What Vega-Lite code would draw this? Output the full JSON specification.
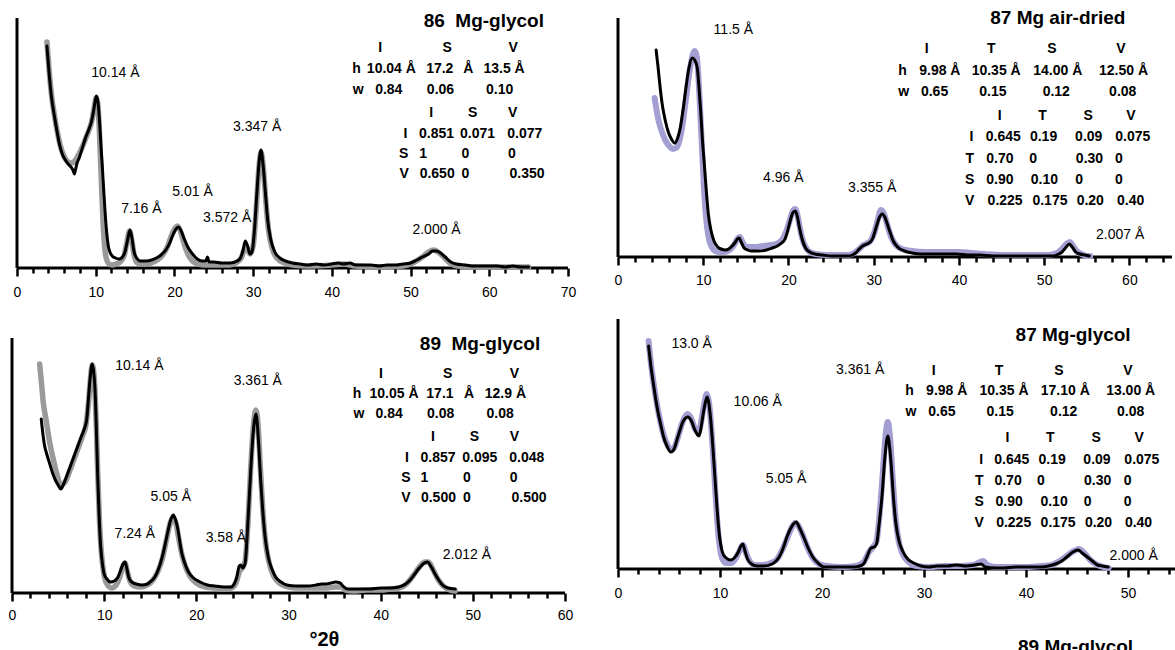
{
  "$schema": "https://vega.github.io/schema/vega-lite/v6.json",
  "background": "white",
  "padding": {"left": 8, "top": 9, "right": 0, "bottom": 0},
  "config": {
    "view": {"stroke": null},
    "font": "Liberation Sans",
    "text": {"font": "Liberation Sans", "color": "#000"}
  },
  "datasets": {
    "tl": [
      {"s":"calc","x":3.8,"y":226},{"s":"calc","x":4.1,"y":196},{"s":"calc","x":4.4,"y":172},{"s":"calc","x":4.75,"y":153},{"s":"calc","x":5.1,"y":137},{"s":"calc","x":5.45,"y":124},{"s":"calc","x":5.8,"y":115},{"s":"calc","x":6.15,"y":109},{"s":"calc","x":6.5,"y":106},{"s":"calc","x":6.85,"y":105},{"s":"calc","x":7.2,"y":106},{"s":"calc","x":7.6,"y":110},{"s":"calc","x":8.0,"y":116},{"s":"calc","x":8.4,"y":123},{"s":"calc","x":8.8,"y":131},{"s":"calc","x":9.2,"y":139},{"s":"calc","x":9.5,"y":147},{"s":"calc","x":9.8,"y":160},{"s":"calc","x":10.05,"y":170},{"s":"calc","x":10.25,"y":165},{"s":"calc","x":10.45,"y":140},{"s":"calc","x":10.6,"y":110},{"s":"calc","x":10.75,"y":80},{"s":"calc","x":10.9,"y":52},{"s":"calc","x":11.05,"y":30},{"s":"calc","x":11.2,"y":16},{"s":"calc","x":11.4,"y":8},{"s":"calc","x":11.7,"y":4},{"s":"calc","x":12.1,"y":3},{"s":"calc","x":12.6,"y":4},{"s":"calc","x":13.1,"y":6},{"s":"calc","x":13.6,"y":12},{"s":"calc","x":13.95,"y":25},{"s":"calc","x":14.3,"y":37},{"s":"calc","x":14.6,"y":27},{"s":"calc","x":14.9,"y":12},{"s":"calc","x":15.3,"y":5},{"s":"calc","x":16.0,"y":4},{"s":"calc","x":17.0,"y":5},{"s":"calc","x":17.8,"y":8},{"s":"calc","x":18.5,"y":13},{"s":"calc","x":19.1,"y":21},{"s":"calc","x":19.6,"y":32},{"s":"calc","x":20.1,"y":40},{"s":"calc","x":20.4,"y":42},{"s":"calc","x":20.8,"y":36},{"s":"calc","x":21.2,"y":25},{"s":"calc","x":21.7,"y":14},{"s":"calc","x":22.3,"y":7},{"s":"calc","x":23.0,"y":4},{"s":"calc","x":24.0,"y":3},{"s":"calc","x":25.0,"y":3},{"s":"calc","x":26.0,"y":3},{"s":"calc","x":27.0,"y":3},{"s":"calc","x":27.8,"y":5},{"s":"calc","x":28.5,"y":10},{"s":"calc","x":28.9,"y":19},{"s":"calc","x":29.2,"y":20},{"s":"calc","x":29.6,"y":14},{"s":"calc","x":30.0,"y":22},{"s":"calc","x":30.4,"y":60},{"s":"calc","x":30.75,"y":102},{"s":"calc","x":31.0,"y":116},{"s":"calc","x":31.3,"y":100},{"s":"calc","x":31.6,"y":68},{"s":"calc","x":31.95,"y":38},{"s":"calc","x":32.4,"y":20},{"s":"calc","x":33.0,"y":10},{"s":"calc","x":34.0,"y":5},{"s":"calc","x":35.0,"y":3},{"s":"calc","x":37.0,"y":2},{"s":"calc","x":40.0,"y":3},{"s":"calc","x":41.5,"y":4},{"s":"calc","x":43.0,"y":2},{"s":"calc","x":46.0,"y":1},{"s":"calc","x":49.0,"y":2},{"s":"calc","x":50.5,"y":6},{"s":"calc","x":51.5,"y":11},{"s":"calc","x":52.3,"y":16},{"s":"calc","x":52.9,"y":18},{"s":"calc","x":53.5,"y":16},{"s":"calc","x":54.2,"y":11},{"s":"calc","x":55.0,"y":5},{"s":"calc","x":56.0,"y":2},{"s":"calc","x":58.0,"y":1},{"s":"calc","x":62.0,"y":1},{"s":"calc","x":65.0,"y":1},
      {"s":"obs","x":3.8,"y":222},{"s":"obs","x":4.1,"y":193},{"s":"obs","x":4.4,"y":170},{"s":"obs","x":4.75,"y":152},{"s":"obs","x":5.1,"y":136},{"s":"obs","x":5.45,"y":122},{"s":"obs","x":5.8,"y":113},{"s":"obs","x":6.15,"y":108},{"s":"obs","x":6.5,"y":104},{"s":"obs","x":6.85,"y":101},{"s":"obs","x":7.1,"y":98},{"s":"obs","x":7.3,"y":94},{"s":"obs","x":7.45,"y":99},{"s":"obs","x":7.6,"y":104},{"s":"obs","x":7.9,"y":110},{"s":"obs","x":8.3,"y":120},{"s":"obs","x":8.7,"y":130},{"s":"obs","x":9.1,"y":138},{"s":"obs","x":9.45,"y":146},{"s":"obs","x":9.75,"y":158},{"s":"obs","x":9.95,"y":168},{"s":"obs","x":10.1,"y":172},{"s":"obs","x":10.3,"y":165},{"s":"obs","x":10.5,"y":145},{"s":"obs","x":10.7,"y":118},{"s":"obs","x":10.85,"y":100},{"s":"obs","x":11.0,"y":80},{"s":"obs","x":11.2,"y":55},{"s":"obs","x":11.4,"y":35},{"s":"obs","x":11.6,"y":22},{"s":"obs","x":11.8,"y":16},{"s":"obs","x":12.1,"y":12},{"s":"obs","x":12.5,"y":10},{"s":"obs","x":13.0,"y":9},{"s":"obs","x":13.4,"y":11},{"s":"obs","x":13.75,"y":17},{"s":"obs","x":14.05,"y":28},{"s":"obs","x":14.35,"y":38},{"s":"obs","x":14.6,"y":30},{"s":"obs","x":14.85,"y":17},{"s":"obs","x":15.2,"y":10},{"s":"obs","x":15.7,"y":7},{"s":"obs","x":16.4,"y":7},{"s":"obs","x":17.1,"y":8},{"s":"obs","x":17.7,"y":10},{"s":"obs","x":18.3,"y":13},{"s":"obs","x":18.9,"y":18},{"s":"obs","x":19.4,"y":25},{"s":"obs","x":19.8,"y":33},{"s":"obs","x":20.2,"y":39},{"s":"obs","x":20.5,"y":41},{"s":"obs","x":20.8,"y":38},{"s":"obs","x":21.2,"y":30},{"s":"obs","x":21.7,"y":21},{"s":"obs","x":22.3,"y":14},{"s":"obs","x":22.9,"y":9},{"s":"obs","x":23.5,"y":7},{"s":"obs","x":24.0,"y":7},{"s":"obs","x":24.2,"y":11},{"s":"obs","x":24.4,"y":6},{"s":"obs","x":25.0,"y":6},{"s":"obs","x":26.0,"y":5},{"s":"obs","x":27.0,"y":5},{"s":"obs","x":27.7,"y":6},{"s":"obs","x":28.3,"y":9},{"s":"obs","x":28.7,"y":17},{"s":"obs","x":29.0,"y":27},{"s":"obs","x":29.3,"y":22},{"s":"obs","x":29.6,"y":14},{"s":"obs","x":29.85,"y":16},{"s":"obs","x":30.15,"y":36},{"s":"obs","x":30.45,"y":72},{"s":"obs","x":30.75,"y":105},{"s":"obs","x":31.0,"y":118},{"s":"obs","x":31.25,"y":104},{"s":"obs","x":31.55,"y":76},{"s":"obs","x":31.85,"y":48},{"s":"obs","x":32.25,"y":28},{"s":"obs","x":32.75,"y":16},{"s":"obs","x":33.4,"y":10},{"s":"obs","x":34.1,"y":7},{"s":"obs","x":35.0,"y":5},{"s":"obs","x":36.0,"y":4},{"s":"obs","x":37.0,"y":3},{"s":"obs","x":38.0,"y":4},{"s":"obs","x":39.0,"y":3},{"s":"obs","x":40.0,"y":4},{"s":"obs","x":40.8,"y":5},{"s":"obs","x":41.5,"y":4},{"s":"obs","x":42.3,"y":5},{"s":"obs","x":43.0,"y":3},{"s":"obs","x":44.0,"y":3},{"s":"obs","x":45.0,"y":3},{"s":"obs","x":46.0,"y":2},{"s":"obs","x":47.0,"y":3},{"s":"obs","x":48.0,"y":3},{"s":"obs","x":49.0,"y":4},{"s":"obs","x":50.0,"y":5},{"s":"obs","x":50.8,"y":8},{"s":"obs","x":51.5,"y":11},{"s":"obs","x":52.3,"y":14},{"s":"obs","x":52.8,"y":17},{"s":"obs","x":53.3,"y":17},{"s":"obs","x":53.8,"y":15},{"s":"obs","x":54.4,"y":11},{"s":"obs","x":55.1,"y":6},{"s":"obs","x":55.8,"y":4},{"s":"obs","x":57.0,"y":3},{"s":"obs","x":58.0,"y":2},{"s":"obs","x":59.0,"y":2},{"s":"obs","x":60.0,"y":2},{"s":"obs","x":61.0,"y":2},{"s":"obs","x":62.0,"y":1},{"s":"obs","x":63.0,"y":2},{"s":"obs","x":64.0,"y":1},{"s":"obs","x":65.0,"y":1}
    ],
    "tr": [
      {"s":"calc","x":4.3,"y":159},{"s":"calc","x":4.5,"y":148},{"s":"calc","x":4.8,"y":135},{"s":"calc","x":5.2,"y":124},{"s":"calc","x":5.6,"y":116},{"s":"calc","x":6.0,"y":111},{"s":"calc","x":6.4,"y":108},{"s":"calc","x":6.8,"y":109},{"s":"calc","x":7.2,"y":116},{"s":"calc","x":7.6,"y":134},{"s":"calc","x":8.0,"y":160},{"s":"calc","x":8.4,"y":186},{"s":"calc","x":8.8,"y":203},{"s":"calc","x":9.0,"y":206},{"s":"calc","x":9.25,"y":200},{"s":"calc","x":9.45,"y":178},{"s":"calc","x":9.65,"y":145},{"s":"calc","x":9.85,"y":110},{"s":"calc","x":10.05,"y":75},{"s":"calc","x":10.25,"y":48},{"s":"calc","x":10.45,"y":30},{"s":"calc","x":10.7,"y":17},{"s":"calc","x":11.0,"y":10},{"s":"calc","x":11.4,"y":6},{"s":"calc","x":11.9,"y":5},{"s":"calc","x":12.5,"y":5},{"s":"calc","x":13.1,"y":7},{"s":"calc","x":13.6,"y":12},{"s":"calc","x":14.0,"y":18},{"s":"calc","x":14.3,"y":20},{"s":"calc","x":14.6,"y":15},{"s":"calc","x":14.9,"y":11},{"s":"calc","x":15.3,"y":10},{"s":"calc","x":16.0,"y":10},{"s":"calc","x":17.0,"y":11},{"s":"calc","x":18.0,"y":12},{"s":"calc","x":18.8,"y":14},{"s":"calc","x":19.4,"y":19},{"s":"calc","x":19.8,"y":27},{"s":"calc","x":20.2,"y":38},{"s":"calc","x":20.5,"y":46},{"s":"calc","x":20.8,"y":48},{"s":"calc","x":21.05,"y":42},{"s":"calc","x":21.3,"y":31},{"s":"calc","x":21.6,"y":19},{"s":"calc","x":22.0,"y":10},{"s":"calc","x":22.5,"y":5},{"s":"calc","x":23.2,"y":3},{"s":"calc","x":24.5,"y":2},{"s":"calc","x":26.0,"y":2},{"s":"calc","x":27.0,"y":2},{"s":"calc","x":27.7,"y":4},{"s":"calc","x":28.3,"y":8},{"s":"calc","x":28.8,"y":12},{"s":"calc","x":29.3,"y":14},{"s":"calc","x":29.7,"y":17},{"s":"calc","x":30.1,"y":25},{"s":"calc","x":30.5,"y":38},{"s":"calc","x":30.85,"y":47},{"s":"calc","x":31.1,"y":45},{"s":"calc","x":31.4,"y":38},{"s":"calc","x":31.7,"y":29},{"s":"calc","x":32.1,"y":19},{"s":"calc","x":32.6,"y":12},{"s":"calc","x":33.3,"y":8},{"s":"calc","x":34.5,"y":6},{"s":"calc","x":36.0,"y":5},{"s":"calc","x":38.0,"y":5},{"s":"calc","x":40.0,"y":5},{"s":"calc","x":41.5,"y":4},{"s":"calc","x":43.0,"y":3},{"s":"calc","x":45.0,"y":2},{"s":"calc","x":47.0,"y":2},{"s":"calc","x":49.0,"y":2},{"s":"calc","x":50.5,"y":2},{"s":"calc","x":51.5,"y":4},{"s":"calc","x":52.1,"y":8},{"s":"calc","x":52.6,"y":13},{"s":"calc","x":53.0,"y":15},{"s":"calc","x":53.4,"y":11},{"s":"calc","x":53.8,"y":6},{"s":"calc","x":54.4,"y":3},{"s":"calc","x":55.0,"y":1},{"s":"calc","x":55.4,"y":1},
      {"s":"obs","x":4.47,"y":207},{"s":"obs","x":4.7,"y":190},{"s":"obs","x":4.9,"y":173},{"s":"obs","x":5.2,"y":152},{"s":"obs","x":5.56,"y":136},{"s":"obs","x":5.9,"y":125},{"s":"obs","x":6.2,"y":119},{"s":"obs","x":6.66,"y":114},{"s":"obs","x":7.0,"y":119},{"s":"obs","x":7.3,"y":129},{"s":"obs","x":7.65,"y":148},{"s":"obs","x":7.97,"y":169},{"s":"obs","x":8.3,"y":188},{"s":"obs","x":8.7,"y":199},{"s":"obs","x":9.0,"y":197},{"s":"obs","x":9.3,"y":189},{"s":"obs","x":9.5,"y":170},{"s":"obs","x":9.7,"y":146},{"s":"obs","x":9.9,"y":118},{"s":"obs","x":10.16,"y":89},{"s":"obs","x":10.4,"y":62},{"s":"obs","x":10.6,"y":43},{"s":"obs","x":10.9,"y":27},{"s":"obs","x":11.26,"y":16},{"s":"obs","x":11.7,"y":10},{"s":"obs","x":12.1,"y":8},{"s":"obs","x":12.6,"y":7},{"s":"obs","x":13.0,"y":8},{"s":"obs","x":13.4,"y":11},{"s":"obs","x":13.7,"y":14},{"s":"obs","x":14.0,"y":18},{"s":"obs","x":14.2,"y":19},{"s":"obs","x":14.45,"y":15},{"s":"obs","x":14.8,"y":9},{"s":"obs","x":15.2,"y":7},{"s":"obs","x":15.6,"y":6},{"s":"obs","x":16.5,"y":6},{"s":"obs","x":17.4,"y":7},{"s":"obs","x":18.1,"y":9},{"s":"obs","x":18.7,"y":11},{"s":"obs","x":19.2,"y":14},{"s":"obs","x":19.6,"y":18},{"s":"obs","x":19.9,"y":26},{"s":"obs","x":20.2,"y":36},{"s":"obs","x":20.5,"y":44},{"s":"obs","x":20.8,"y":46},{"s":"obs","x":21.05,"y":40},{"s":"obs","x":21.3,"y":29},{"s":"obs","x":21.6,"y":18},{"s":"obs","x":22.0,"y":9},{"s":"obs","x":22.5,"y":5},{"s":"obs","x":23.1,"y":3},{"s":"obs","x":24.0,"y":2},{"s":"obs","x":25.0,"y":1},{"s":"obs","x":26.0,"y":1},{"s":"obs","x":27.0,"y":1},{"s":"obs","x":27.5,"y":2},{"s":"obs","x":28.0,"y":5},{"s":"obs","x":28.3,"y":8},{"s":"obs","x":28.7,"y":11},{"s":"obs","x":29.2,"y":13},{"s":"obs","x":29.6,"y":15},{"s":"obs","x":29.9,"y":19},{"s":"obs","x":30.3,"y":30},{"s":"obs","x":30.7,"y":40},{"s":"obs","x":31.0,"y":43},{"s":"obs","x":31.3,"y":40},{"s":"obs","x":31.6,"y":33},{"s":"obs","x":31.95,"y":24},{"s":"obs","x":32.3,"y":16},{"s":"obs","x":32.8,"y":10},{"s":"obs","x":33.6,"y":6},{"s":"obs","x":34.5,"y":4},{"s":"obs","x":35.5,"y":3},{"s":"obs","x":36.5,"y":3},{"s":"obs","x":37.5,"y":3},{"s":"obs","x":38.5,"y":3},{"s":"obs","x":39.7,"y":3},{"s":"obs","x":41.0,"y":2},{"s":"obs","x":42.5,"y":2},{"s":"obs","x":44.0,"y":1},{"s":"obs","x":45.5,"y":1},{"s":"obs","x":47.0,"y":1},{"s":"obs","x":48.5,"y":1},{"s":"obs","x":50.0,"y":1},{"s":"obs","x":51.1,"y":1},{"s":"obs","x":51.7,"y":3},{"s":"obs","x":52.1,"y":5},{"s":"obs","x":52.5,"y":9},{"s":"obs","x":52.96,"y":13},{"s":"obs","x":53.3,"y":10},{"s":"obs","x":53.7,"y":5},{"s":"obs","x":54.2,"y":3},{"s":"obs","x":54.8,"y":2},{"s":"obs","x":55.3,"y":1}
    ],
    "bl": [
      {"s":"calc","x":3.0,"y":229},{"s":"calc","x":3.2,"y":210},{"s":"calc","x":3.4,"y":190},{"s":"calc","x":3.7,"y":173},{"s":"calc","x":4.1,"y":150},{"s":"calc","x":4.5,"y":133},{"s":"calc","x":4.9,"y":118},{"s":"calc","x":5.3,"y":108},{"s":"calc","x":5.7,"y":110},{"s":"calc","x":6.1,"y":118},{"s":"calc","x":6.5,"y":128},{"s":"calc","x":6.9,"y":138},{"s":"calc","x":7.3,"y":148},{"s":"calc","x":7.7,"y":158},{"s":"calc","x":8.0,"y":167},{"s":"calc","x":8.3,"y":190},{"s":"calc","x":8.5,"y":213},{"s":"calc","x":8.7,"y":228},{"s":"calc","x":8.9,"y":218},{"s":"calc","x":9.1,"y":180},{"s":"calc","x":9.3,"y":120},{"s":"calc","x":9.5,"y":70},{"s":"calc","x":9.7,"y":40},{"s":"calc","x":9.95,"y":20},{"s":"calc","x":10.3,"y":9},{"s":"calc","x":10.8,"y":5},{"s":"calc","x":11.3,"y":8},{"s":"calc","x":11.7,"y":16},{"s":"calc","x":12.0,"y":26},{"s":"calc","x":12.25,"y":30},{"s":"calc","x":12.5,"y":22},{"s":"calc","x":12.8,"y":12},{"s":"calc","x":13.3,"y":7},{"s":"calc","x":14.0,"y":6},{"s":"calc","x":14.7,"y":8},{"s":"calc","x":15.3,"y":13},{"s":"calc","x":15.8,"y":21},{"s":"calc","x":16.3,"y":34},{"s":"calc","x":16.8,"y":55},{"s":"calc","x":17.2,"y":71},{"s":"calc","x":17.5,"y":75},{"s":"calc","x":17.8,"y":69},{"s":"calc","x":18.1,"y":54},{"s":"calc","x":18.4,"y":40},{"s":"calc","x":18.8,"y":27},{"s":"calc","x":19.3,"y":17},{"s":"calc","x":20.0,"y":10},{"s":"calc","x":21.0,"y":6},{"s":"calc","x":22.0,"y":5},{"s":"calc","x":23.0,"y":4},{"s":"calc","x":23.8,"y":5},{"s":"calc","x":24.3,"y":10},{"s":"calc","x":24.7,"y":22},{"s":"calc","x":25.0,"y":25},{"s":"calc","x":25.3,"y":32},{"s":"calc","x":25.6,"y":70},{"s":"calc","x":25.9,"y":125},{"s":"calc","x":26.2,"y":168},{"s":"calc","x":26.45,"y":183},{"s":"calc","x":26.7,"y":168},{"s":"calc","x":26.95,"y":125},{"s":"calc","x":27.2,"y":85},{"s":"calc","x":27.5,"y":52},{"s":"calc","x":27.9,"y":30},{"s":"calc","x":28.4,"y":17},{"s":"calc","x":29.0,"y":10},{"s":"calc","x":30.0,"y":6},{"s":"calc","x":31.0,"y":5},{"s":"calc","x":32.0,"y":5},{"s":"calc","x":33.0,"y":5},{"s":"calc","x":34.0,"y":5},{"s":"calc","x":35.0,"y":6},{"s":"calc","x":35.7,"y":6},{"s":"calc","x":36.2,"y":3},{"s":"calc","x":37.0,"y":2},{"s":"calc","x":38.5,"y":3},{"s":"calc","x":40.0,"y":3},{"s":"calc","x":41.0,"y":4},{"s":"calc","x":42.0,"y":5},{"s":"calc","x":42.8,"y":9},{"s":"calc","x":43.5,"y":17},{"s":"calc","x":44.2,"y":26},{"s":"calc","x":44.8,"y":31},{"s":"calc","x":45.2,"y":31},{"s":"calc","x":45.7,"y":23},{"s":"calc","x":46.2,"y":14},{"s":"calc","x":46.8,"y":7},{"s":"calc","x":47.5,"y":3},{"s":"calc","x":48.1,"y":2},
      {"s":"obs","x":3.17,"y":174},{"s":"obs","x":3.5,"y":149},{"s":"obs","x":3.8,"y":138},{"s":"obs","x":4.1,"y":129},{"s":"obs","x":4.4,"y":120},{"s":"obs","x":4.7,"y":113},{"s":"obs","x":5.0,"y":108},{"s":"obs","x":5.3,"y":104},{"s":"obs","x":5.6,"y":109},{"s":"obs","x":5.9,"y":116},{"s":"obs","x":6.3,"y":126},{"s":"obs","x":6.7,"y":136},{"s":"obs","x":7.1,"y":146},{"s":"obs","x":7.5,"y":156},{"s":"obs","x":7.8,"y":163},{"s":"obs","x":8.1,"y":173},{"s":"obs","x":8.3,"y":195},{"s":"obs","x":8.45,"y":212},{"s":"obs","x":8.7,"y":229},{"s":"obs","x":8.85,"y":222},{"s":"obs","x":9.0,"y":205},{"s":"obs","x":9.15,"y":165},{"s":"obs","x":9.3,"y":116},{"s":"obs","x":9.45,"y":78},{"s":"obs","x":9.6,"y":49},{"s":"obs","x":9.8,"y":30},{"s":"obs","x":10.0,"y":19},{"s":"obs","x":10.3,"y":14},{"s":"obs","x":10.7,"y":11},{"s":"obs","x":11.1,"y":12},{"s":"obs","x":11.5,"y":16},{"s":"obs","x":11.8,"y":23},{"s":"obs","x":12.05,"y":29},{"s":"obs","x":12.25,"y":31},{"s":"obs","x":12.45,"y":25},{"s":"obs","x":12.65,"y":16},{"s":"obs","x":13.0,"y":11},{"s":"obs","x":13.5,"y":9},{"s":"obs","x":14.1,"y":8},{"s":"obs","x":14.7,"y":9},{"s":"obs","x":15.1,"y":12},{"s":"obs","x":15.5,"y":16},{"s":"obs","x":15.9,"y":24},{"s":"obs","x":16.3,"y":36},{"s":"obs","x":16.65,"y":50},{"s":"obs","x":16.95,"y":63},{"s":"obs","x":17.25,"y":74},{"s":"obs","x":17.5,"y":78},{"s":"obs","x":17.75,"y":73},{"s":"obs","x":17.95,"y":66},{"s":"obs","x":18.15,"y":55},{"s":"obs","x":18.35,"y":43},{"s":"obs","x":18.7,"y":31},{"s":"obs","x":19.15,"y":21},{"s":"obs","x":19.7,"y":15},{"s":"obs","x":20.4,"y":11},{"s":"obs","x":21.2,"y":8},{"s":"obs","x":22.0,"y":7},{"s":"obs","x":23.0,"y":6},{"s":"obs","x":23.8,"y":6},{"s":"obs","x":24.1,"y":9},{"s":"obs","x":24.4,"y":16},{"s":"obs","x":24.65,"y":27},{"s":"obs","x":24.8,"y":28},{"s":"obs","x":25.05,"y":25},{"s":"obs","x":25.3,"y":30},{"s":"obs","x":25.5,"y":55},{"s":"obs","x":25.7,"y":88},{"s":"obs","x":25.9,"y":122},{"s":"obs","x":26.1,"y":152},{"s":"obs","x":26.3,"y":172},{"s":"obs","x":26.47,"y":179},{"s":"obs","x":26.65,"y":165},{"s":"obs","x":26.8,"y":143},{"s":"obs","x":27.0,"y":110},{"s":"obs","x":27.2,"y":83},{"s":"obs","x":27.45,"y":57},{"s":"obs","x":27.8,"y":36},{"s":"obs","x":28.2,"y":24},{"s":"obs","x":28.6,"y":16},{"s":"obs","x":29.2,"y":11},{"s":"obs","x":29.8,"y":8},{"s":"obs","x":30.8,"y":7},{"s":"obs","x":32.0,"y":7},{"s":"obs","x":33.0,"y":8},{"s":"obs","x":33.6,"y":9},{"s":"obs","x":34.0,"y":9},{"s":"obs","x":34.6,"y":10},{"s":"obs","x":35.1,"y":11},{"s":"obs","x":35.6,"y":10},{"s":"obs","x":35.9,"y":7},{"s":"obs","x":36.4,"y":4},{"s":"obs","x":37.5,"y":4},{"s":"obs","x":38.8,"y":4},{"s":"obs","x":40.0,"y":5},{"s":"obs","x":41.0,"y":5},{"s":"obs","x":42.0,"y":6},{"s":"obs","x":42.7,"y":9},{"s":"obs","x":43.3,"y":14},{"s":"obs","x":43.7,"y":19},{"s":"obs","x":44.1,"y":24},{"s":"obs","x":44.6,"y":29},{"s":"obs","x":45.06,"y":31},{"s":"obs","x":45.5,"y":26},{"s":"obs","x":45.9,"y":19},{"s":"obs","x":46.3,"y":13},{"s":"obs","x":46.7,"y":8},{"s":"obs","x":47.3,"y":5},{"s":"obs","x":48.1,"y":4}
    ],
    "br": [
      {"s":"calc","x":3.0,"y":228},{"s":"calc","x":3.2,"y":208},{"s":"calc","x":3.4,"y":192},{"s":"calc","x":3.65,"y":175},{"s":"calc","x":3.9,"y":160},{"s":"calc","x":4.2,"y":145},{"s":"calc","x":4.5,"y":133},{"s":"calc","x":4.85,"y":124},{"s":"calc","x":5.2,"y":119},{"s":"calc","x":5.55,"y":122},{"s":"calc","x":5.85,"y":131},{"s":"calc","x":6.2,"y":143},{"s":"calc","x":6.55,"y":152},{"s":"calc","x":6.85,"y":155},{"s":"calc","x":7.2,"y":150},{"s":"calc","x":7.55,"y":140},{"s":"calc","x":7.9,"y":137},{"s":"calc","x":8.2,"y":150},{"s":"calc","x":8.45,"y":165},{"s":"calc","x":8.7,"y":175},{"s":"calc","x":8.9,"y":168},{"s":"calc","x":9.1,"y":148},{"s":"calc","x":9.3,"y":118},{"s":"calc","x":9.5,"y":85},{"s":"calc","x":9.7,"y":52},{"s":"calc","x":9.95,"y":24},{"s":"calc","x":10.2,"y":11},{"s":"calc","x":10.6,"y":6},{"s":"calc","x":11.1,"y":6},{"s":"calc","x":11.5,"y":10},{"s":"calc","x":11.9,"y":18},{"s":"calc","x":12.25,"y":24},{"s":"calc","x":12.55,"y":16},{"s":"calc","x":12.9,"y":8},{"s":"calc","x":13.4,"y":4},{"s":"calc","x":14.2,"y":4},{"s":"calc","x":15.0,"y":6},{"s":"calc","x":15.6,"y":10},{"s":"calc","x":16.1,"y":19},{"s":"calc","x":16.6,"y":31},{"s":"calc","x":17.0,"y":41},{"s":"calc","x":17.35,"y":46},{"s":"calc","x":17.7,"y":43},{"s":"calc","x":18.1,"y":34},{"s":"calc","x":18.6,"y":21},{"s":"calc","x":19.1,"y":11},{"s":"calc","x":19.7,"y":5},{"s":"calc","x":20.5,"y":3},{"s":"calc","x":22.0,"y":2},{"s":"calc","x":23.3,"y":3},{"s":"calc","x":24.1,"y":7},{"s":"calc","x":24.6,"y":17},{"s":"calc","x":25.0,"y":22},{"s":"calc","x":25.35,"y":28},{"s":"calc","x":25.65,"y":55},{"s":"calc","x":25.95,"y":95},{"s":"calc","x":26.2,"y":130},{"s":"calc","x":26.45,"y":147},{"s":"calc","x":26.7,"y":128},{"s":"calc","x":26.95,"y":88},{"s":"calc","x":27.2,"y":52},{"s":"calc","x":27.5,"y":29},{"s":"calc","x":27.9,"y":15},{"s":"calc","x":28.5,"y":7},{"s":"calc","x":29.3,"y":3},{"s":"calc","x":30.5,"y":2},{"s":"calc","x":32.0,"y":3},{"s":"calc","x":33.5,"y":3},{"s":"calc","x":34.8,"y":4},{"s":"calc","x":35.5,"y":7},{"s":"calc","x":35.8,"y":8},{"s":"calc","x":36.2,"y":4},{"s":"calc","x":37.0,"y":2},{"s":"calc","x":38.5,"y":2},{"s":"calc","x":40.0,"y":2},{"s":"calc","x":41.5,"y":3},{"s":"calc","x":42.5,"y":4},{"s":"calc","x":43.3,"y":8},{"s":"calc","x":44.0,"y":13},{"s":"calc","x":44.7,"y":18},{"s":"calc","x":45.2,"y":20},{"s":"calc","x":45.7,"y":16},{"s":"calc","x":46.3,"y":9},{"s":"calc","x":47.0,"y":4},{"s":"calc","x":47.6,"y":2},{"s":"calc","x":48.1,"y":1},
      {"s":"obs","x":3.0,"y":223},{"s":"obs","x":3.2,"y":205},{"s":"obs","x":3.4,"y":190},{"s":"obs","x":3.65,"y":173},{"s":"obs","x":3.9,"y":158},{"s":"obs","x":4.2,"y":144},{"s":"obs","x":4.47,"y":132},{"s":"obs","x":4.8,"y":123},{"s":"obs","x":5.2,"y":117},{"s":"obs","x":5.5,"y":120},{"s":"obs","x":5.75,"y":128},{"s":"obs","x":6.05,"y":138},{"s":"obs","x":6.4,"y":148},{"s":"obs","x":6.85,"y":152},{"s":"obs","x":7.2,"y":148},{"s":"obs","x":7.5,"y":140},{"s":"obs","x":7.8,"y":134},{"s":"obs","x":7.95,"y":133},{"s":"obs","x":8.15,"y":142},{"s":"obs","x":8.4,"y":158},{"s":"obs","x":8.6,"y":168},{"s":"obs","x":8.75,"y":172},{"s":"obs","x":8.9,"y":166},{"s":"obs","x":9.1,"y":148},{"s":"obs","x":9.3,"y":122},{"s":"obs","x":9.5,"y":92},{"s":"obs","x":9.7,"y":62},{"s":"obs","x":9.96,"y":32},{"s":"obs","x":10.2,"y":18},{"s":"obs","x":10.5,"y":12},{"s":"obs","x":11.06,"y":9},{"s":"obs","x":11.4,"y":11},{"s":"obs","x":11.8,"y":17},{"s":"obs","x":12.05,"y":23},{"s":"obs","x":12.23,"y":25},{"s":"obs","x":12.45,"y":18},{"s":"obs","x":12.7,"y":10},{"s":"obs","x":13.1,"y":5},{"s":"obs","x":13.6,"y":3},{"s":"obs","x":14.3,"y":3},{"s":"obs","x":15.1,"y":5},{"s":"obs","x":15.5,"y":8},{"s":"obs","x":15.8,"y":12},{"s":"obs","x":16.2,"y":21},{"s":"obs","x":16.56,"y":32},{"s":"obs","x":16.9,"y":40},{"s":"obs","x":17.2,"y":45},{"s":"obs","x":17.47,"y":47},{"s":"obs","x":17.8,"y":41},{"s":"obs","x":18.2,"y":32},{"s":"obs","x":18.6,"y":22},{"s":"obs","x":19.1,"y":12},{"s":"obs","x":19.6,"y":6},{"s":"obs","x":20.2,"y":2},{"s":"obs","x":21.0,"y":2},{"s":"obs","x":22.0,"y":2},{"s":"obs","x":23.15,"y":2},{"s":"obs","x":23.7,"y":3},{"s":"obs","x":24.07,"y":5},{"s":"obs","x":24.4,"y":12},{"s":"obs","x":24.8,"y":21},{"s":"obs","x":25.1,"y":22},{"s":"obs","x":25.35,"y":25},{"s":"obs","x":25.6,"y":45},{"s":"obs","x":25.9,"y":75},{"s":"obs","x":26.15,"y":110},{"s":"obs","x":26.45,"y":133},{"s":"obs","x":26.65,"y":120},{"s":"obs","x":26.8,"y":102},{"s":"obs","x":27.0,"y":72},{"s":"obs","x":27.25,"y":45},{"s":"obs","x":27.55,"y":28},{"s":"obs","x":27.9,"y":18},{"s":"obs","x":28.4,"y":10},{"s":"obs","x":29.0,"y":6},{"s":"obs","x":29.7,"y":3},{"s":"obs","x":30.5,"y":2},{"s":"obs","x":31.3,"y":3},{"s":"obs","x":32.3,"y":3},{"s":"obs","x":33.2,"y":4},{"s":"obs","x":34.1,"y":3},{"s":"obs","x":35.0,"y":4},{"s":"obs","x":35.6,"y":5},{"s":"obs","x":36.0,"y":2},{"s":"obs","x":37.0,"y":1},{"s":"obs","x":37.8,"y":1},{"s":"obs","x":39.0,"y":2},{"s":"obs","x":40.5,"y":2},{"s":"obs","x":41.5,"y":2},{"s":"obs","x":42.2,"y":3},{"s":"obs","x":42.9,"y":5},{"s":"obs","x":43.5,"y":8},{"s":"obs","x":44.0,"y":12},{"s":"obs","x":44.6,"y":17},{"s":"obs","x":45.1,"y":19},{"s":"obs","x":45.5,"y":16},{"s":"obs","x":45.9,"y":13},{"s":"obs","x":46.5,"y":8},{"s":"obs","x":47.0,"y":4},{"s":"obs","x":47.5,"y":3},{"s":"obs","x":48.06,"y":2}
    ],
    "tlText": [
      {"k":"title","x":66.95,"y":247,"t":"86\u00a0 Mg-glycol"},
      {"k":"peak","x":12.5,"y":195,"t":"10.14 Å"},{"k":"peak","x":15.8,"y":59,"t":"7.16 Å"},{"k":"peak","x":22.3,"y":76,"t":"5.01 Å"},{"k":"peak","x":26.7,"y":50,"t":"3.572 Å"},{"k":"peak","x":30.5,"y":141,"t":"3.347 Å"},{"k":"peak","x":53.3,"y":38,"t":"2.000 Å"},
      {"k":"tab","x":46.15,"y":220,"t":"I"},{"k":"tab","x":54.65,"y":220,"t":"S"},{"k":"tab","x":63.05,"y":220,"t":"V"},
      {"k":"tab","x":43.15,"y":199,"t":"h"},{"k":"tab","x":47.56,"y":199,"t":"10.04 Å"},{"k":"tab","x":53.71,"y":199,"t":"17.2"},{"k":"tab","x":57.32,"y":199,"t":"Å"},{"k":"tab","x":61.88,"y":199,"t":"13.5 Å"},
      {"k":"tab","x":43.33,"y":178,"t":"w"},{"k":"tab","x":47.23,"y":178,"t":"0.84"},{"k":"tab","x":53.8,"y":178,"t":"0.06"},{"k":"tab","x":61.31,"y":178,"t":"0.10"},
      {"k":"tab","x":52.63,"y":155,"t":"I"},{"k":"tab","x":57.89,"y":155,"t":"S"},{"k":"tab","x":62.96,"y":155,"t":"V"},
      {"k":"tab","x":49.34,"y":134,"t":"I"},{"k":"tab","x":53.29,"y":134,"t":"0.851"},{"k":"tab","x":58.5,"y":134,"t":"0.071"},{"k":"tab","x":64.51,"y":134,"t":"0.077"},
      {"k":"tab","x":49.11,"y":114,"t":"S"},{"k":"tab","x":51.6,"y":114,"t":"1"},{"k":"tab","x":56.95,"y":114,"t":"0"},{"k":"tab","x":62.86,"y":114,"t":"0"},
      {"k":"tab","x":49.2,"y":94,"t":"V"},{"k":"tab","x":53.38,"y":94,"t":"0.650"},{"k":"tab","x":56.95,"y":94,"t":"0"},{"k":"tab","x":64.79,"y":94,"t":"0.350"}
    ],
    "trText": [
      {"k":"title","x":59.53,"y":239,"t":"87 Mg air-dried"},
      {"k":"peak","x":13.53,"y":227,"t":"11.5 Å"},{"k":"peak","x":19.4,"y":79,"t":"4.96 Å"},{"k":"peak","x":29.83,"y":69,"t":"3.355 Å"},{"k":"peak","x":58.91,"y":22,"t":"2.007 Å"},
      {"k":"tab","x":36.22,"y":208,"t":"I"},{"k":"tab","x":43.8,"y":208,"t":"T"},{"k":"tab","x":50.9,"y":208,"t":"S"},{"k":"tab","x":59.0,"y":208,"t":"V"},
      {"k":"tab","x":33.38,"y":186,"t":"h"},{"k":"tab","x":37.76,"y":186,"t":"9.98 Å"},{"k":"tab","x":44.37,"y":186,"t":"10.35 Å"},{"k":"tab","x":51.6,"y":186,"t":"14.00 Å"},{"k":"tab","x":59.31,"y":186,"t":"12.50 Å"},
      {"k":"tab","x":33.51,"y":165,"t":"w"},{"k":"tab","x":37.14,"y":165,"t":"0.65"},{"k":"tab","x":43.98,"y":165,"t":"0.15"},{"k":"tab","x":51.42,"y":165,"t":"0.12"},{"k":"tab","x":59.22,"y":165,"t":"0.08"},
      {"k":"tab","x":44.77,"y":141,"t":"I"},{"k":"tab","x":49.8,"y":141,"t":"T"},{"k":"tab","x":55.15,"y":141,"t":"S"},{"k":"tab","x":60.18,"y":141,"t":"V"},
      {"k":"tab","x":41.48,"y":120,"t":"I"},{"k":"tab","x":45.2,"y":120,"t":"0.645"},{"k":"tab","x":49.93,"y":120,"t":"0.19"},{"k":"tab","x":55.23,"y":120,"t":"0.09"},{"k":"tab","x":60.4,"y":120,"t":"0.075"},
      {"k":"tab","x":41.26,"y":98,"t":"T"},{"k":"tab","x":44.81,"y":98,"t":"0.70"},{"k":"tab","x":48.71,"y":98,"t":"0"},{"k":"tab","x":55.32,"y":98,"t":"0.30"},{"k":"tab","x":58.78,"y":98,"t":"0"},
      {"k":"tab","x":41.26,"y":77,"t":"S"},{"k":"tab","x":44.81,"y":77,"t":"0.90"},{"k":"tab","x":50.02,"y":77,"t":"0.10"},{"k":"tab","x":54.1,"y":77,"t":"0"},{"k":"tab","x":58.78,"y":77,"t":"0"},
      {"k":"tab","x":41.26,"y":56,"t":"V"},{"k":"tab","x":45.42,"y":56,"t":"0.225"},{"k":"tab","x":50.68,"y":56,"t":"0.175"},{"k":"tab","x":55.41,"y":56,"t":"0.20"},{"k":"tab","x":60.14,"y":56,"t":"0.40"}
    ],
    "blText": [
      {"k":"title","x":57.31,"y":249,"t":"89\u00a0 Mg-glycol"},
      {"k":"axis","x":33.9,"y":-47,"t":"°2θ"},
      {"k":"peak","x":13.82,"y":227,"t":"10.14 Å"},{"k":"peak","x":26.67,"y":212,"t":"3.361 Å"},{"k":"peak","x":17.23,"y":96,"t":"5.05 Å"},{"k":"peak","x":13.33,"y":59,"t":"7.24 Å"},{"k":"peak","x":23.21,"y":55,"t":"3.58 Å"},{"k":"peak","x":49.36,"y":38,"t":"2.012 Å"},
      {"k":"tab","x":40.04,"y":219,"t":"I"},{"k":"tab","x":47.27,"y":219,"t":"S"},{"k":"tab","x":54.5,"y":219,"t":"V"},
      {"k":"tab","x":37.43,"y":199,"t":"h"},{"k":"tab","x":41.45,"y":199,"t":"10.05 Å"},{"k":"tab","x":46.43,"y":199,"t":"17.1"},{"k":"tab","x":49.6,"y":199,"t":"Å"},{"k":"tab","x":53.53,"y":199,"t":"12.9 Å"},
      {"k":"tab","x":37.63,"y":179,"t":"w"},{"k":"tab","x":40.92,"y":179,"t":"0.84"},{"k":"tab","x":46.51,"y":179,"t":"0.08"},{"k":"tab","x":52.97,"y":179,"t":"0.08"},
      {"k":"tab","x":45.66,"y":156,"t":"I"},{"k":"tab","x":50.16,"y":156,"t":"S"},{"k":"tab","x":54.5,"y":156,"t":"V"},
      {"k":"tab","x":42.85,"y":135,"t":"I"},{"k":"tab","x":46.22,"y":135,"t":"0.857"},{"k":"tab","x":50.76,"y":135,"t":"0.095"},{"k":"tab","x":55.86,"y":135,"t":"0.048"},
      {"k":"tab","x":42.73,"y":115,"t":"S"},{"k":"tab","x":44.74,"y":115,"t":"1"},{"k":"tab","x":49.36,"y":115,"t":"0"},{"k":"tab","x":54.42,"y":115,"t":"0"},
      {"k":"tab","x":42.73,"y":95,"t":"V"},{"k":"tab","x":46.27,"y":95,"t":"0.500"},{"k":"tab","x":49.36,"y":95,"t":"0"},{"k":"tab","x":56.1,"y":95,"t":"0.500"}
    ],
    "brText": [
      {"k":"title","x":50.26,"y":234,"t":"87 Mg-glycol"},
      {"k":"next","x":50.5,"y":-84,"t":"89 Mg-glycol"},
      {"k":"peak","x":7.22,"y":225,"t":"13.0 Å"},{"k":"peak","x":23.74,"y":199,"t":"3.361 Å"},{"k":"peak","x":13.7,"y":167,"t":"10.06 Å"},{"k":"peak","x":16.48,"y":90,"t":"5.05 Å"},{"k":"peak","x":50.55,"y":13,"t":"2.000 Å"},
      {"k":"tab","x":30.95,"y":198,"t":"I"},{"k":"tab","x":37.36,"y":198,"t":"T"},{"k":"tab","x":43.22,"y":198,"t":"S"},{"k":"tab","x":50.0,"y":198,"t":"V"},
      {"k":"tab","x":28.57,"y":178,"t":"h"},{"k":"tab","x":32.23,"y":178,"t":"9.98 Å"},{"k":"tab","x":37.84,"y":178,"t":"10.35 Å"},{"k":"tab","x":43.85,"y":178,"t":"17.10 Å"},{"k":"tab","x":50.26,"y":178,"t":"13.00 Å"},
      {"k":"tab","x":28.72,"y":157,"t":"w"},{"k":"tab","x":31.76,"y":157,"t":"0.65"},{"k":"tab","x":37.47,"y":157,"t":"0.15"},{"k":"tab","x":43.7,"y":157,"t":"0.12"},{"k":"tab","x":50.26,"y":157,"t":"0.08"},
      {"k":"tab","x":38.17,"y":131,"t":"I"},{"k":"tab","x":42.38,"y":131,"t":"T"},{"k":"tab","x":46.89,"y":131,"t":"S"},{"k":"tab","x":51.1,"y":131,"t":"V"},
      {"k":"tab","x":35.6,"y":109,"t":"I"},{"k":"tab","x":38.61,"y":109,"t":"0.645"},{"k":"tab","x":42.56,"y":109,"t":"0.19"},{"k":"tab","x":46.96,"y":109,"t":"0.09"},{"k":"tab","x":51.36,"y":109,"t":"0.075"},
      {"k":"tab","x":35.42,"y":88,"t":"T"},{"k":"tab","x":38.24,"y":88,"t":"0.70"},{"k":"tab","x":41.47,"y":88,"t":"0"},{"k":"tab","x":47.03,"y":88,"t":"0.30"},{"k":"tab","x":49.96,"y":88,"t":"0"},
      {"k":"tab","x":35.42,"y":67,"t":"S"},{"k":"tab","x":38.35,"y":67,"t":"0.90"},{"k":"tab","x":42.75,"y":67,"t":"0.10"},{"k":"tab","x":46.04,"y":67,"t":"0"},{"k":"tab","x":49.96,"y":67,"t":"0"},
      {"k":"tab","x":35.42,"y":46,"t":"V"},{"k":"tab","x":38.79,"y":46,"t":"0.225"},{"k":"tab","x":43.15,"y":46,"t":"0.175"},{"k":"tab","x":47.11,"y":46,"t":"0.20"},{"k":"tab","x":51.03,"y":46,"t":"0.40"}
    ]
  },
  "columns": 2,
  "align": "none",
  "bounds": "flush",
  "spacing": {"row": 51, "column": 50},
  "concat": [
    {
      "width": 556,
      "height": 250,
      "encoding": {
        "x": {"field": "x", "type": "quantitative",
          "scale": {"domain": [-0.635, 70], "nice": false, "zero": false},
          "axis": {"values": [0,2,4,6,8,10,12,14,16,18,20,22,24,26,28,30,32,34,36,38,40,42,44,46,48,50,52,54,56,58,60,62,64,66,68,70],
            "title": null, "domain": false, "grid": false, "tickColor": "#000", "tickWidth": 2.5,
            "tickSize": {"condition": {"test": "datum.value % 10 === 0", "value": 8}, "value": 5},
            "labelExpr": "datum.value % 10 === 0 ? datum.label : ''",
            "labelFont": "Liberation Sans", "labelFontSize": 14, "labelColor": "#000", "labelPadding": 9,
            "labelFlush": false, "labelOverlap": false, "labelBound": false}},
        "y": {"field": "y", "type": "quantitative", "scale": {"domain": [0, 250], "nice": false, "zero": false}, "axis": null}
      },
      "layer": [
        {"data": {"values": [{"x": 0, "y": 0, "x2": 0, "y2": 250}, {"x": 0, "y": 0, "x2": 70, "y2": 0}]},
          "mark": {"type": "rule", "strokeWidth": 3, "color": "#000"},
          "encoding": {"x2": {"field": "x2"}, "y2": {"field": "y2"}}},
        {"data": {"name": "tl"}, "transform": [{"filter": "datum.s === 'calc'"}],
          "mark": {"type": "line", "color": "#9a9a9a", "strokeWidth": 5.5, "interpolate": "monotone", "strokeJoin": "round", "strokeCap": "round"}},
        {"data": {"name": "tl"}, "transform": [{"filter": "datum.s === 'obs'"}],
          "mark": {"type": "line", "color": "#000", "strokeWidth": 3, "interpolate": "monotone", "strokeJoin": "round", "strokeCap": "round"}},
        {"data": {"name": "tlText"}, "transform": [{"filter": "datum.k === 'peak'"}],
          "mark": {"type": "text", "fontSize": 14, "align": "center", "baseline": "middle"},
          "encoding": {"text": {"field": "t"}}},
        {"data": {"name": "tlText"}, "transform": [{"filter": "datum.k === 'tab'"}],
          "mark": {"type": "text", "fontSize": 14, "fontWeight": "bold", "align": "center", "baseline": "middle"},
          "encoding": {"text": {"field": "t"}}},
        {"data": {"name": "tlText"}, "transform": [{"filter": "datum.k === 'title'"}],
          "mark": {"type": "text", "fontSize": 19, "fontWeight": "bold", "align": "right", "baseline": "middle"},
          "encoding": {"text": {"field": "t"}}}
      ]
    },
    {
      "width": 554,
      "height": 239,
      "encoding": {
        "x": {"field": "x", "type": "quantitative",
          "scale": {"domain": [0, 65], "nice": false, "zero": false},
          "axis": {"values": [0,2,4,6,8,10,12,14,16,18,20,22,24,26,28,30,32,34,36,38,40,42,44,46,48,50,52,54,56,58,60,62,64],
            "title": null, "domain": false, "grid": false, "tickColor": "#000", "tickWidth": 2.5,
            "tickSize": {"condition": {"test": "datum.value % 10 === 0", "value": 8}, "value": 5},
            "labelExpr": "datum.value % 10 === 0 ? datum.label : ''",
            "labelFont": "Liberation Sans", "labelFontSize": 14, "labelColor": "#000", "labelPadding": 8,
            "labelFlush": false, "labelOverlap": false, "labelBound": false}},
        "y": {"field": "y", "type": "quantitative", "scale": {"domain": [0, 239], "nice": false, "zero": false}, "axis": null}
      },
      "layer": [
        {"data": {"values": [{"x": 0, "y": 0, "x2": 0, "y2": 239}, {"x": 0, "y": 0, "x2": 65, "y2": 0}]},
          "mark": {"type": "rule", "strokeWidth": 3, "color": "#000"},
          "encoding": {"x2": {"field": "x2"}, "y2": {"field": "y2"}}},
        {"data": {"name": "tr"}, "transform": [{"filter": "datum.s === 'calc'"}],
          "mark": {"type": "line", "color": "#a49fd3", "strokeWidth": 6, "interpolate": "monotone", "strokeJoin": "round", "strokeCap": "round"}},
        {"data": {"name": "tr"}, "transform": [{"filter": "datum.s === 'obs'"}],
          "mark": {"type": "line", "color": "#000", "strokeWidth": 3, "interpolate": "monotone", "strokeJoin": "round", "strokeCap": "round"}},
        {"data": {"name": "trText"}, "transform": [{"filter": "datum.k === 'peak'"}],
          "mark": {"type": "text", "fontSize": 14, "align": "center", "baseline": "middle"},
          "encoding": {"text": {"field": "t"}}},
        {"data": {"name": "trText"}, "transform": [{"filter": "datum.k === 'tab'"}],
          "mark": {"type": "text", "fontSize": 14, "fontWeight": "bold", "align": "center", "baseline": "middle"},
          "encoding": {"text": {"field": "t"}}},
        {"data": {"name": "trText"}, "transform": [{"filter": "datum.k === 'title'"}],
          "mark": {"type": "text", "fontSize": 19, "fontWeight": "bold", "align": "right", "baseline": "middle"},
          "encoding": {"text": {"field": "t"}}}
      ]
    },
    {
      "width": 553,
      "height": 274,
      "encoding": {
        "x": {"field": "x", "type": "quantitative",
          "scale": {"domain": [0, 60], "nice": false, "zero": false},
          "axis": {"values": [0,2,4,6,8,10,12,14,16,18,20,22,24,26,28,30,32,34,36,38,40,42,44,46,48,50,52,54,56,58,60],
            "title": null, "domain": false, "grid": false, "tickColor": "#000", "tickWidth": 2.5,
            "tickSize": {"condition": {"test": "datum.value % 10 === 0", "value": 8}, "value": 5},
            "labelExpr": "datum.value % 10 === 0 ? datum.label : ''",
            "labelFont": "Liberation Sans", "labelFontSize": 14, "labelColor": "#000", "labelPadding": 7,
            "labelFlush": false, "labelOverlap": false, "labelBound": false}},
        "y": {"field": "y", "type": "quantitative", "scale": {"domain": [0, 274], "nice": false, "zero": false}, "axis": null}
      },
      "layer": [
        {"data": {"values": [{"x": 0, "y": 0, "x2": 0, "y2": 255}, {"x": 0, "y": 0, "x2": 60, "y2": 0}]},
          "mark": {"type": "rule", "strokeWidth": 3, "color": "#000"},
          "encoding": {"x2": {"field": "x2"}, "y2": {"field": "y2"}}},
        {"data": {"name": "bl"}, "transform": [{"filter": "datum.s === 'calc'"}],
          "mark": {"type": "line", "color": "#9a9a9a", "strokeWidth": 5.5, "interpolate": "monotone", "strokeJoin": "round", "strokeCap": "round"}},
        {"data": {"name": "bl"}, "transform": [{"filter": "datum.s === 'obs'"}],
          "mark": {"type": "line", "color": "#000", "strokeWidth": 3, "interpolate": "monotone", "strokeJoin": "round", "strokeCap": "round"}},
        {"data": {"name": "blText"}, "transform": [{"filter": "datum.k === 'peak'"}],
          "mark": {"type": "text", "fontSize": 14, "align": "center", "baseline": "middle"},
          "encoding": {"text": {"field": "t"}}},
        {"data": {"name": "blText"}, "transform": [{"filter": "datum.k === 'tab'"}],
          "mark": {"type": "text", "fontSize": 14, "fontWeight": "bold", "align": "center", "baseline": "middle"},
          "encoding": {"text": {"field": "t"}}},
        {"data": {"name": "blText"}, "transform": [{"filter": "datum.k === 'title'"}],
          "mark": {"type": "text", "fontSize": 19, "fontWeight": "bold", "align": "right", "baseline": "middle"},
          "encoding": {"text": {"field": "t"}}},
        {"data": {"name": "blText"}, "transform": [{"filter": "datum.k === 'axis'"}],
          "mark": {"type": "text", "fontSize": 20, "fontWeight": "bold", "align": "center", "baseline": "middle"},
          "encoding": {"text": {"field": "t"}}}
      ]
    },
    {
      "width": 561,
      "height": 250,
      "encoding": {
        "x": {"field": "x", "type": "quantitative",
          "scale": {"domain": [0, 55], "nice": false, "zero": false},
          "axis": {"values": [0,2,4,6,8,10,12,14,16,18,20,22,24,26,28,30,32,34,36,38,40,42,44,46,48,50,52,54],
            "title": null, "domain": false, "grid": false, "tickColor": "#000", "tickWidth": 2.5,
            "tickSize": {"condition": {"test": "datum.value % 10 === 0", "value": 8}, "value": 5},
            "labelExpr": "datum.value % 10 === 0 ? datum.label : ''",
            "labelFont": "Liberation Sans", "labelFontSize": 14, "labelColor": "#000", "labelPadding": 9,
            "labelFlush": false, "labelOverlap": false, "labelBound": false}},
        "y": {"field": "y", "type": "quantitative", "scale": {"domain": [0, 250], "nice": false, "zero": false}, "axis": null}
      },
      "layer": [
        {"data": {"values": [{"x": 0, "y": 0, "x2": 0, "y2": 250}, {"x": 0, "y": 0, "x2": 55, "y2": 0}]},
          "mark": {"type": "rule", "strokeWidth": 3, "color": "#000"},
          "encoding": {"x2": {"field": "x2"}, "y2": {"field": "y2"}}},
        {"data": {"name": "br"}, "transform": [{"filter": "datum.s === 'calc'"}],
          "mark": {"type": "line", "color": "#a49fd3", "strokeWidth": 6, "interpolate": "monotone", "strokeJoin": "round", "strokeCap": "round"}},
        {"data": {"name": "br"}, "transform": [{"filter": "datum.s === 'obs'"}],
          "mark": {"type": "line", "color": "#000", "strokeWidth": 3, "interpolate": "monotone", "strokeJoin": "round", "strokeCap": "round"}},
        {"data": {"name": "brText"}, "transform": [{"filter": "datum.k === 'peak'"}],
          "mark": {"type": "text", "fontSize": 14, "align": "center", "baseline": "middle"},
          "encoding": {"text": {"field": "t"}}},
        {"data": {"name": "brText"}, "transform": [{"filter": "datum.k === 'tab'"}],
          "mark": {"type": "text", "fontSize": 14, "fontWeight": "bold", "align": "center", "baseline": "middle"},
          "encoding": {"text": {"field": "t"}}},
        {"data": {"name": "brText"}, "transform": [{"filter": "datum.k === 'title'"}],
          "mark": {"type": "text", "fontSize": 19, "fontWeight": "bold", "align": "right", "baseline": "middle"},
          "encoding": {"text": {"field": "t"}}},
        {"data": {"name": "brText"}, "transform": [{"filter": "datum.k === 'next'"}],
          "mark": {"type": "text", "fontSize": 19, "fontWeight": "bold", "align": "right", "baseline": "alphabetic"},
          "encoding": {"text": {"field": "t"}}}
      ]
    }
  ]
}
